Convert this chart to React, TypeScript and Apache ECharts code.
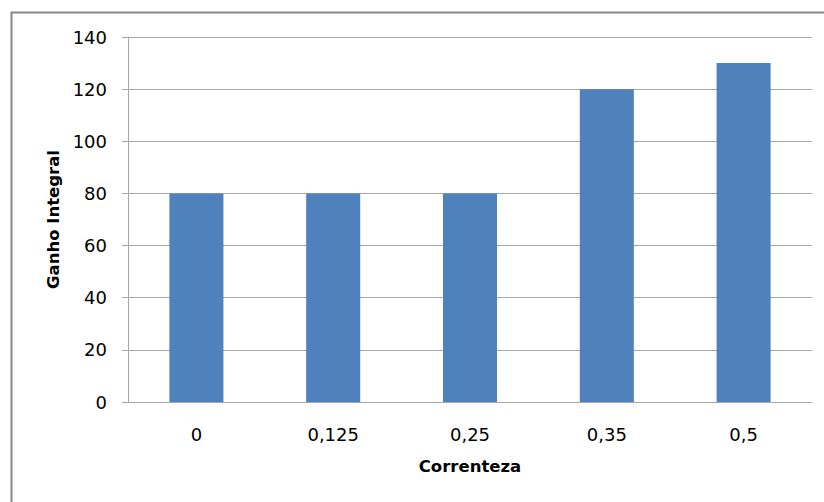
import React, { useEffect, useRef } from "react";
import * as echarts from "echarts";

const categories = ["0", "0,125", "0,25", "0,35", "0,5"];
const ganhoIntegral = [80, 80, 80, 120, 130];
const yTicks = { min: 0, max: 140, interval: 20 };

const FONT = "'DejaVu Sans', Verdana, sans-serif";

export default function App() {
  const ref = useRef<HTMLDivElement>(null);

  useEffect(() => {
    if (!ref.current) return;
    const chart = echarts.init(ref.current, null, { renderer: "svg" });
    chart.setOption({
      animation: false,
      backgroundColor: "#ffffff",
      textStyle: { fontFamily: FONT },
      graphic: [
        {
          type: "rect",
          left: 9,
          top: 10,
          shape: { width: 830, height: 510 },
          style: { fill: "none", stroke: "#878787", lineWidth: 2 },
          silent: true,
        },
      ],
      grid: { left: 128, right: 12, top: 37, bottom: 100 },
      xAxis: {
        type: "category",
        data: categories,
        name: "Correnteza",
        nameLocation: "middle",
        nameGap: 56,
        nameTextStyle: { fontFamily: FONT, fontWeight: "bold", fontSize: 16.5, color: "#000" },
        axisLine: { lineStyle: { color: "#A6A6A6", width: 1 } },
        axisTick: { show: false },
        axisLabel: { fontFamily: FONT, fontSize: 18, color: "#000", margin: 23 },
      },
      yAxis: {
        type: "value",
        min: yTicks.min,
        max: yTicks.max,
        interval: yTicks.interval,
        name: "Ganho Integral",
        nameLocation: "middle",
        nameGap: 64,
        nameTextStyle: { fontFamily: FONT, fontWeight: "bold", fontSize: 16.5, color: "#000" },
        axisLine: { show: true, lineStyle: { color: "#A6A6A6", width: 1 } },
        axisTick: { show: true, length: 6, lineStyle: { color: "#A6A6A6" } },
        splitLine: { lineStyle: { color: "#A6A6A6", width: 1 } },
        axisLabel: { fontFamily: FONT, fontSize: 18, color: "#000", margin: 21 },
      },
      series: [
        {
          type: "bar",
          data: ganhoIntegral,
          barWidth: "39.5%",
          itemStyle: { color: "#4F81BD" },
        },
      ],
    });
    return () => chart.dispose();
  }, []);

  return (
    <div
      ref={ref}
      style={{ position: "fixed", left: 0, top: 0, width: 824, height: 502 }}
    />
  );
}
